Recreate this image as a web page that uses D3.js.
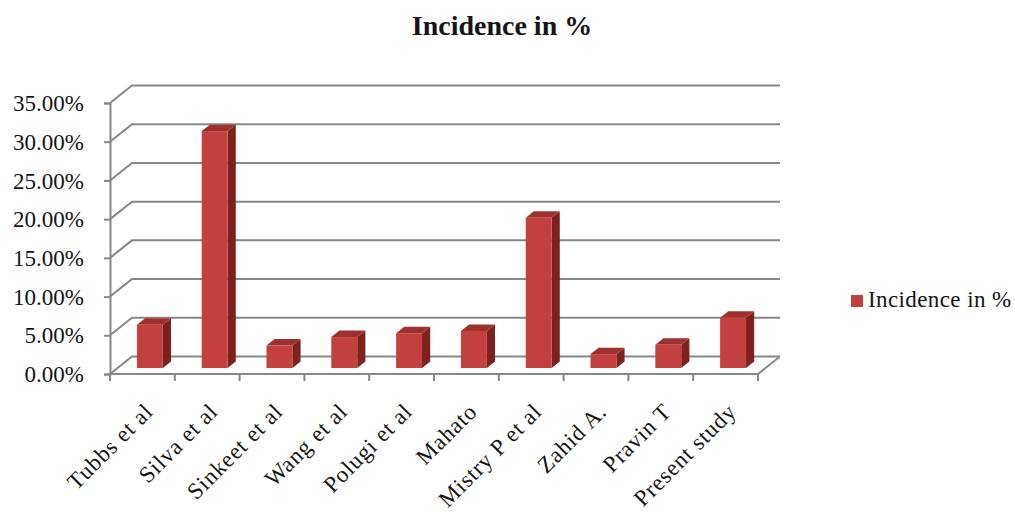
<!DOCTYPE html>
<html>
<head>
<meta charset="utf-8">
<script src="https://cdn.jsdelivr.net/npm/d3@7"></script>
<style>
  html, body { margin: 0; padding: 0; background: #fff; }
  svg { display: block; }
  svg text { font-family: "Liberation Serif", "Times New Roman", serif !important; }
</style>
</head>
<body>
<svg id="chart" width="1015" height="512"></svg>
<script>
// Study names along the category axis
const categories = ["Tubbs et al", "Silva et al", "Sinkeet et al", "Wang et al", "Polugi et al",
                    "Mahato", "Mistry P et al", "Zahid A.", "Pravin T", "Present study"];
// Incidence (fraction) reported by each study
const incidence = [0.056, 0.306, 0.029, 0.040, 0.045, 0.048, 0.194, 0.018, 0.030, 0.065];
// Value-axis ticks
const yTicks = [0, 0.05, 0.10, 0.15, 0.20, 0.25, 0.30, 0.35];
const seriesName = "Incidence in %";
const chartTitle = "Incidence in %";

const svg = d3.select("#chart");

// Front plane of the plot area
const plotLeft = 110, plotRight = 758, plotBottom = 374, plotTop = 103;
// Perspective offset from the front plane to the back wall
const depth = { x: 22, y: -17.5 };
// Columns sit between these depth fractions
const f0 = 0.34, f1 = 0.71;

const y = d3.scaleLinear().domain([0, 0.35]).range([plotBottom, plotTop]);
const xCat = d3.scaleBand().domain(categories).range([plotLeft, plotRight]).padding(0);
const xBar = d3.scaleBand().domain(categories).range([plotLeft, plotRight])
  .paddingInner(0.6).paddingOuter(0.3);

const gridColor = "#878787";
const textColor = "#151515";

// Side wall and back wall gridlines
const grid = svg.append("g").attr("fill", "none").attr("stroke", gridColor).attr("stroke-width", 2);
yTicks.forEach(t => {
  const yy = y(t);
  grid.append("path").attr("d",
    `M${plotLeft},${yy} L${plotLeft + depth.x},${yy + depth.y} L${plotRight + depth.x},${yy + depth.y}`);
});
// Floor front edge and right edge
grid.append("path").attr("d",
  `M${plotLeft},${plotBottom} L${plotRight},${plotBottom} L${plotRight + depth.x},${plotBottom + depth.y}`);

// Value axis
const yAxis = d3.axisLeft(y).tickValues(yTicks).tickFormat(d3.format(".2%"))
  .tickSize(6).tickPadding(20);
const gy = svg.append("g").attr("transform", `translate(${plotLeft},0)`).call(yAxis)
  .attr("font-family", null).attr("font-size", null);
gy.select(".domain").attr("stroke", gridColor).attr("stroke-width", 2);
gy.selectAll(".tick line").attr("stroke", gridColor).attr("stroke-width", 2);
gy.selectAll(".tick text")
  .style("font-size", "23px").attr("fill", textColor)
  .attr("x", -26).attr("dy", "0.33em");

// Category tick marks at band boundaries
const boundaries = categories.map(c => xCat(c)).concat([xCat(categories[categories.length - 1]) + xCat.bandwidth()]);
svg.append("g").selectAll("line").data(boundaries).join("line")
  .attr("x1", d => d).attr("x2", d => d)
  .attr("y1", plotBottom).attr("y2", plotBottom + 7)
  .attr("stroke", gridColor).attr("stroke-width", 2);

// 3D columns
const colFront = "#C2403D", colTop = "#A0302D", colSide = "#7E201E";
const bars = svg.append("g").selectAll("g").data(categories.map((c, i) => ({ c, v: incidence[i] })))
  .join("g");
bars.each(function (d) {
  const g = d3.select(this);
  const x0 = xBar(d.c) + depth.x * f0;
  const w = xBar.bandwidth();
  const yb = y(0) + depth.y * f0;
  const yt = y(d.v) + depth.y * f0;
  const dx = depth.x * (f1 - f0), dy = depth.y * (f1 - f0);
  // side face
  g.append("path").attr("fill", colSide).attr("d",
    `M${x0 + w},${yb} L${x0 + w + dx},${yb + dy} L${x0 + w + dx},${yt + dy} L${x0 + w},${yt} Z`);
  // top face
  g.append("path").attr("fill", colTop).attr("d",
    `M${x0},${yt} L${x0 + dx},${yt + dy} L${x0 + w + dx},${yt + dy} L${x0 + w},${yt} Z`);
  // front face
  g.append("rect").attr("fill", colFront)
    .attr("x", x0).attr("y", yt).attr("width", w).attr("height", yb - yt);
});

// Rotated category labels
svg.append("g").selectAll("text").data(categories).join("text")
  .attr("transform", d => `translate(${xCat(d) + xCat.bandwidth() / 2 + 12},${413}) rotate(-45)`)
  .attr("text-anchor", "end")
  .style("font-size", "23px")
  .attr("letter-spacing", 0.8)
  .attr("fill", textColor)
  .text(d => d);

// Title
svg.append("text")
  .attr("x", 502).attr("y", 35)
  .attr("text-anchor", "middle")
  .style("font-size", "28px").attr("font-weight", "bold").attr("fill", textColor)
  .text(chartTitle);

// Legend
const legend = svg.append("g").attr("transform", "translate(851,295)");
legend.append("rect").attr("width", 12).attr("height", 12).attr("fill", colFront);
legend.append("text").attr("x", 17).attr("y", 12)
  .style("font-size", "23px").attr("letter-spacing", 0.4)
  .attr("fill", textColor).text(seriesName);
</script>
</body>
</html>
